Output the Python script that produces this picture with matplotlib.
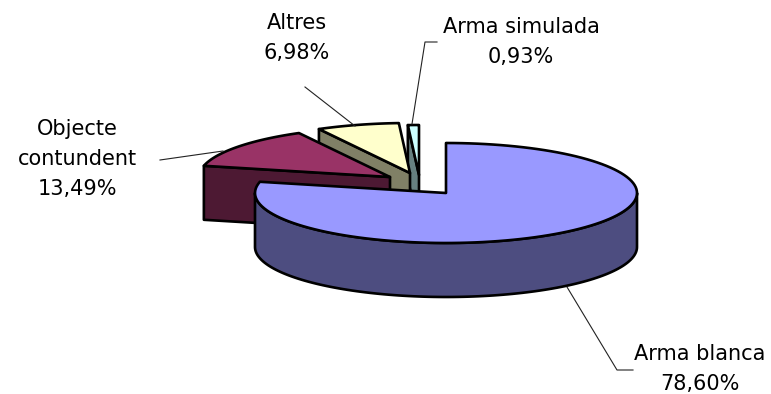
#!/usr/bin/env python3
"""Exploded 3D-look pie of weapon types, drawn by hand as polygons in pixel space."""
import numpy as np
import matplotlib
matplotlib.use("Agg")
import matplotlib.pyplot as plt
from matplotlib.patches import Polygon

LABELS = ["Arma blanca", "Objecte\ncontundent", "Altres", "Arma simulada"]
SHARES = [78.60, 13.49, 6.98, 0.93]

TOP_COLORS = ["#9999FF", "#993366", "#FFFFCC", "#CCFFFF"]
SIDE_COLORS = ["#4D4D80", "#4D1933", "#808066", "#668080"]

# pie tip of each exploded slice, in pixels
TIPS = [(446, 193), (390, 177), (410, 173), (419, 175)]
RX, RY, DEPTH = 191, 50, 54
LW = 1.9

# label anchor (centre of the text block) and leader polyline, in pixels
LABEL_POS = [(700, 369), (77, 159), (297, 38), (521, 42)]
LEADERS = [
    [(567, 287), (617, 370), (633, 370)],
    [(160, 160), (223, 151)],
    [(305, 87), (355, 126)],
    [(437, 42), (425, 42), (412, 124)],
]


def rim(tip, a0, a1, n=120):
    # a0, a1 in degrees, clockwise from the top of the pie
    t = np.radians(np.linspace(a0, a1, n))
    return np.column_stack([tip[0] + RX * np.sin(t), tip[1] - RY * np.cos(t)])


def main():
    fig = plt.figure(figsize=(7.71, 3.94), dpi=100)
    ax = fig.add_axes([0, 0, 1, 1])
    ax.set_xlim(0, 771)
    ax.set_ylim(394, 0)
    ax.axis("off")

    edges = np.concatenate([[0], np.cumsum(SHARES)]) / sum(SHARES) * 360
    drop = np.array([0, DEPTH])

    # back slices first, the big one last so it covers the rest
    for i in reversed(range(len(SHARES))):
        a0, a1 = edges[i], edges[i + 1]
        tip = np.array(TIPS[i], dtype=float)
        kw = dict(edgecolor="black", linewidth=LW, joinstyle="round")

        # cut face on the starting side
        start = rim(tip, a0, a0, 1)[0]
        face = [tip, start, start + drop, tip + drop]
        ax.add_patch(Polygon(face, facecolor=SIDE_COLORS[i], **kw))

        # outer wall, only the part of the rim facing the viewer
        lo, hi = max(a0, 90), min(a1, 270)
        if hi > lo:
            arc = rim(tip, lo, hi)
            wall = np.vstack([arc, (arc + drop)[::-1]])
            ax.add_patch(Polygon(wall, facecolor=SIDE_COLORS[i], **kw))

        top = np.vstack([[tip], rim(tip, a0, a1)])
        ax.add_patch(Polygon(top, facecolor=TOP_COLORS[i], **kw))

    for name, val, pos, line in zip(LABELS, SHARES, LABEL_POS, LEADERS):
        xs, ys = zip(*line)
        ax.plot(xs, ys, color="#222222", linewidth=0.8)
        txt = name + "\n" + f"{val:.2f}".replace(".", ",") + "%"
        ax.text(pos[0], pos[1], txt, ha="center", va="center", fontsize=15,
                linespacing=1.65, color="black", family="DejaVu Sans")

    fig.savefig("out.png", dpi=100)


if __name__ == "__main__":
    main()
